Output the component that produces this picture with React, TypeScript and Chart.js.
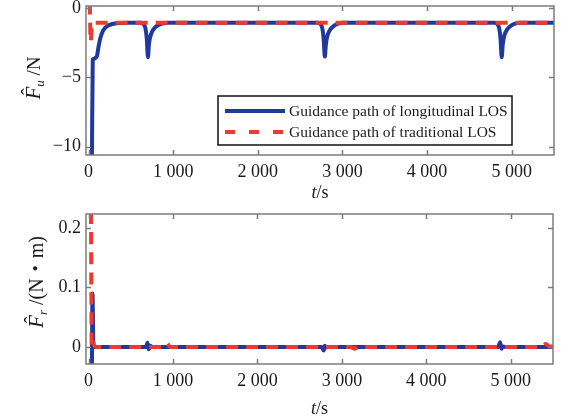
import React, { useEffect, useRef } from "react";
import { Chart, registerables } from "chart.js";
Chart.register(...registerables);

// ---------- data ----------
const seriesLabels = ["Guidance path of longitudinal LOS", "Guidance path of traditional LOS"];
const xTicks = [0, 1000, 2000, 3000, 4000, 5000];
const fuTicks = [0, -5, -10];
const frTicks = [0, 0.1, 0.2];

// top plot: F_u (N)
const fuLongT = [40, 50, 65, 80, 100, 118, 136, 170, 220, 280, 372, 460,
  620, 650, 672, 688, 702, 714, 735, 765, 810, 870, 940,
  2710, 2740, 2762, 2778, 2792, 2805, 2825, 2855, 2900, 2950, 3010,
  4800, 4830, 4852, 4868, 4882, 4895, 4915, 4945, 4990, 5040, 5100, 5520];
const fuLongV = [-10.9, -3.7, -3.65, -3.6, -3.45, -2.8, -2.25, -1.65, -1.3, -1.15, -1.07, -1.05,
  -1.05, -1.15, -1.45, -2.2, -3.55, -2.6, -1.95, -1.55, -1.28, -1.12, -1.05,
  -1.05, -1.15, -1.45, -2.2, -3.5, -2.6, -1.95, -1.55, -1.28, -1.12, -1.05,
  -1.05, -1.15, -1.45, -2.2, -3.55, -2.6, -1.95, -1.55, -1.28, -1.12, -1.05, -1.05];
const fuTradT = [15, 25, 40, 70, 5520];
const fuTradV = [0.4, -2.4, -1.3, -1.05, -1.05];

// bottom plot: F_r (N·m)
const frLongT = [40, 47, 58, 80, 680, 698, 712, 728, 760, 2760, 2785, 2797, 2815, 2840, 4850, 4874, 4890, 4905, 4930, 5520];
const frLongV = [-0.04, 0.09, 0.0, 0.0, 0.0, 0.007, -0.004, 0.002, 0.0, 0.0, -0.006, 0.002, -0.001, 0.0, 0.0, 0.008, -0.003, 0.001, 0.0, 0.0];
const frTradT = [28, 38, 52, 65, 85, 880, 930, 965, 3110, 3150, 3190, 5370, 5415, 5460, 5520];
const frTradV = [0.26, 0.0, 0.009, 0.003, 0.0, 0.0, 0.006, 0.0, 0.0, -0.003, 0.0, 0.0, 0.005, 0.001, 0.001];

// ---------- styles ----------
const BLUE = "#22389c";
const RED = "#ec3a2e";
const SERIF = '"Liberation Serif", "Times New Roman", serif';
const toPts = (t: number[], v: number[]) => t.map((x, i) => ({ x, y: v[i] }));

const fmtX = (v: number) => String(v).replace(/\B(?=(\d{3})+(?!\d))/g, " ");
const fmtY = (v: number) => (v < 0 ? "\u2212" + String(Math.abs(v)) : String(v));

function drawFrame(chart: any) {
  const { ctx, chartArea: a, scales } = chart;
  ctx.save();
  ctx.strokeStyle = "#7c7c7c";
  ctx.lineWidth = 1.5;
  ctx.strokeRect(a.left, a.top, a.right - a.left, a.bottom - a.top);
  const L = 5;
  ctx.beginPath();
  for (const t of scales.x.ticks) {
    const px = Math.round(scales.x.getPixelForValue(t.value)) + 0.5;
    if (px <= a.left + 2 || px >= a.right - 2) continue;
    ctx.moveTo(px, a.bottom); ctx.lineTo(px, a.bottom - L);
    ctx.moveTo(px, a.top); ctx.lineTo(px, a.top + L);
  }
  for (const t of scales.y.ticks) {
    const py = Math.round(scales.y.getPixelForValue(t.value)) + 0.5;
    if (py <= a.top + 2 || py >= a.bottom - 2) continue;
    ctx.moveTo(a.left, py); ctx.lineTo(a.left + L, py);
    ctx.moveTo(a.right, py); ctx.lineTo(a.right - L, py);
  }
  ctx.stroke();
  ctx.restore();
}

function drawYTitle(ctx: CanvasRenderingContext2D, bx: number, cy: number, sub: string, unitParts: string[], unitSize: number) {
  ctx.save();
  ctx.translate(bx, cy);
  ctx.rotate(-Math.PI / 2);
  ctx.fillStyle = "#1a1a1a";
  ctx.textBaseline = "alphabetic";
  const fMain = "italic 21px " + SERIF;
  const fSub = "italic 13px " + SERIF;
  const fUnit = unitSize + "px " + SERIF;
  const fDot = unitSize + 'px "Noto Sans CJK SC", sans-serif';
  ctx.font = fMain; const wF = ctx.measureText("F").width;
  ctx.font = fSub; const wS = ctx.measureText(sub).width;
  const widths = unitParts.map((u, i) => {
    ctx.font = i % 2 === 1 ? fDot : fUnit;
    return ctx.measureText(i === 0 ? " " + u : u).width;
  });
  const total = wF + wS + widths.reduce((a, b) => a + b, 0);
  let x = -total / 2;
  ctx.font = fMain;
  ctx.fillText("F", x, 0);
  ctx.font = "20px " + SERIF;
  const hw = ctx.measureText("\u02C6").width;
  ctx.fillText("\u02C6", x + wF * 0.62 - hw / 2, -4);
  x += wF;
  ctx.font = fSub;
  ctx.fillText(sub, x, 4);
  x += wS;
  unitParts.forEach((u, i) => {
    ctx.font = i % 2 === 1 ? fDot : fUnit;
    ctx.fillText(i === 0 ? " " + u : u, x, 0);
    x += widths[i];
  });
  ctx.restore();
}

function drawXTitle(ctx: CanvasRenderingContext2D, cx: number, by: number) {
  ctx.save();
  ctx.fillStyle = "#1a1a1a";
  ctx.textBaseline = "alphabetic";
  const fT = "italic 18px " + SERIF;
  const fS = "18px " + SERIF;
  ctx.font = fT; const w1 = ctx.measureText("t").width;
  ctx.font = fS; const w2 = ctx.measureText("/s").width;
  const x = cx - (w1 + w2) / 2;
  ctx.font = fT; ctx.fillText("t", x, by);
  ctx.font = fS; ctx.fillText("/s", x + w1, by);
  ctx.restore();
}

function drawLegend(ctx: CanvasRenderingContext2D, chart: any) {
  const ds = chart.data.datasets;
  const items = [ds.find((d: any) => d.label === seriesLabels[0]), ds.find((d: any) => d.label === seriesLabels[1])];
  const bx = 218, by = 96, bw = 294, bh = 49;
  ctx.save();
  ctx.fillStyle = "#ffffff";
  ctx.fillRect(bx, by, bw, bh);
  ctx.strokeStyle = "#111";
  ctx.lineWidth = 1.5;
  ctx.strokeRect(bx, by, bw, bh);
  ctx.font = "15.5px " + SERIF;
  ctx.textBaseline = "middle";
  items.forEach((d: any, i: number) => {
    const y = by + 15 + i * 21;
    ctx.strokeStyle = d.borderColor;
    ctx.lineWidth = 4;
    ctx.setLineDash(i === 1 ? [10, 14] : []);
    ctx.beginPath(); ctx.moveTo(bx + 7, y); ctx.lineTo(bx + 67, y); ctx.stroke();
    ctx.setLineDash([]);
    ctx.fillStyle = "#1a1a1a";
    ctx.fillText(d.label, bx + 71, y + 1);
  });
  ctx.restore();
}

function makeConfig(p: {
  long: { x: number; y: number }[]; trad: { x: number; y: number }[];
  yMin: number; yMax: number; yTicks: number[]; padTop: number; padRight: number; xAxisH: number;
  sub: string; unit: string[]; unitSize: number; yTitleX: number; yTitleY: number; xTitleY: number; legend: boolean;
}): any {
  const overlay = {
    id: "overlay",
    afterDatasetsDraw(chart: any) {
      drawFrame(chart);
      const ctx = chart.ctx;
      drawYTitle(ctx, p.yTitleX, p.yTitleY, p.sub, p.unit, p.unitSize);
      drawXTitle(ctx, (chart.chartArea.left + chart.chartArea.right) / 2, p.xTitleY);
      if (p.legend) drawLegend(ctx, chart);
    },
  };
  return {
    type: "line",
    data: {
      datasets: [
        { label: seriesLabels[0], data: p.long, borderColor: BLUE, borderWidth: 4, pointRadius: 0, order: 1, cubicInterpolationMode: "monotone", fill: false },
        { label: seriesLabels[1], data: p.trad, borderColor: RED, borderWidth: 4, borderDash: [12, 8], pointRadius: 0, order: 0, cubicInterpolationMode: "monotone", fill: false },
      ],
    },
    options: {
      animation: false,
      responsive: false,
      layout: { padding: { top: p.padTop, right: p.padRight, left: 0, bottom: 0 } },
      plugins: { legend: { display: false }, tooltip: { enabled: false } },
      scales: {
        x: {
          type: "linear", min: -30, max: 5500,
          afterBuildTicks: (s: any) => { s.ticks = xTicks.map((v) => ({ value: v })); },
          afterFit: (s: any) => { s.height = p.xAxisH; s.paddingLeft = 0; s.paddingRight = 0; s.paddingTop = 0; s.paddingBottom = 0; },
          grid: { display: false, drawTicks: false },
          border: { display: false },
          ticks: { padding: 6, color: "#1a1a1a", font: { family: SERIF, size: 18 }, maxRotation: 0, callback: (v: any) => fmtX(Number(v)) },
        },
        y: {
          type: "linear", min: p.yMin, max: p.yMax,
          afterBuildTicks: (s: any) => { s.ticks = p.yTicks.map((v) => ({ value: v })); },
          afterFit: (s: any) => { s.width = 86; s.paddingTop = 0; s.paddingBottom = 0; s.paddingLeft = 0; s.paddingRight = 0; },
          grid: { display: false, drawTicks: false },
          border: { display: false },
          ticks: { padding: 5, color: "#1a1a1a", font: { family: SERIF, size: 18 }, callback: (v: any) => fmtY(Number(v)) },
        },
      },
    },
    plugins: [overlay],
  };
}

export default function App() {
  const topRef = useRef<HTMLCanvasElement>(null);
  const botRef = useRef<HTMLCanvasElement>(null);
  useEffect(() => {
    const c1 = new Chart(topRef.current as HTMLCanvasElement, makeConfig({
      long: toPts(fuLongT, fuLongV), trad: toPts(fuTradT, fuTradV),
      yMin: -10.6, yMax: 0.15, yTicks: fuTicks, padTop: 6, padRight: 16, xAxisH: 50,
      sub: "u", unit: ["/N"], unitSize: 19, yTitleX: 40, yTitleY: 78, xTitleY: 198, legend: true,
    }));
    const c2 = new Chart(botRef.current as HTMLCanvasElement, makeConfig({
      long: toPts(frLongT, frLongV), trad: toPts(frTradT, frTradV),
      yMin: -0.0286, yMax: 0.2235, yTicks: frTicks, padTop: 9, padRight: 17, xAxisH: 54,
      sub: "r", unit: ["/(N", "\u00B7", "m)"], unitSize: 20, yTitleX: 43, yTitleY: 77, xTitleY: 209, legend: false,
    }));
    return () => { c1.destroy(); c2.destroy(); };
  }, []);
  return (
    <div style={{ position: "absolute", left: 0, top: 0, width: 570, height: 418, background: "#fff" }}>
      <canvas ref={topRef} width={570} height={205} style={{ display: "block", width: 570, height: 205 }} />
      <canvas ref={botRef} width={570} height={213} style={{ display: "block", width: 570, height: 213 }} />
    </div>
  );
}
